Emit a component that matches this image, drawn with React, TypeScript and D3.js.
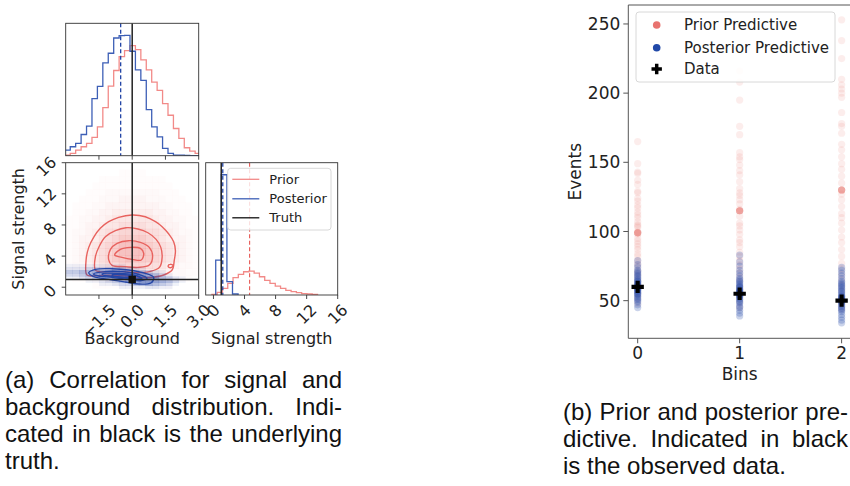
import React from 'react';
import * as d3 from 'd3';

const FONT = "'DejaVu Sans', sans-serif";
const CAP_FONT = "'Liberation Sans', Arial, sans-serif";

// ---------------- Data ----------------
// Corner plot, background marginal
const bkgEdges = [-3.04, -2.795, -2.55, -2.305, -2.06, -1.815, -1.57, -1.325, -1.08, -0.835, -0.59, -0.345, -0.1, 0.145, 0.39, 0.635, 0.88, 1.125, 1.37, 1.615, 1.86, 2.105, 2.35, 2.595, 2.84, 3.085];
const bkgPrior = [2, 7, 17, 27, 37, 55, 87, 145, 210, 257, 299, 317, 332, 320, 289, 259, 222, 197, 157, 122, 82, 52, 24, 14, 7];
const bkgPost = [17, 27, 37, 64, 89, 172, 209, 280, 309, 355, 362, 363, 315, 259, 227, 139, 87, 57, 22, 7, 2, 2, 1, 0, 0];

// signal marginal
const sigPriorEdges = [-0.2, 0.48, 1.16, 1.84, 2.52, 3.2, 3.88, 4.56, 5.24, 5.92, 6.6, 7.28, 7.96, 8.64, 9.32, 10.0, 10.68, 11.36, 12.04, 12.72, 13.4];
const sigPrior = [2, 8, 20, 35, 52, 62, 70, 72, 66, 55, 44, 35, 27, 20, 14, 10, 7, 4, 3, 2];
const sigPostEdges = [0.29, 1.01, 1.73, 2.45, 3.17];
const sigPost = [105, 362, 40, 3];

const truthBkg = 0;
const truthSig = 1;
const meanBkgPost = -0.52;
const meanSigPost = 1.2;
const meanSigPrior = 4.65;

const bkgTicks = [-1.5, 0, 1.5, 3.0];
const bkgTickLabels = ['\u22121.5', '0.0', '1.5', '3.0'];
const sigTicks = [0, 4, 8, 12, 16];
const sigTickLabels = ['0', '4', '8', '12', '16'];

// 2D density (prior): 20 cols over background [-3,3], 20 rows over signal [16,-1]
const priorDensity = [
  '00000000000000000000',
  '00000000111100000000',
  '00000111111111100000',
  '00001111111111110000',
  '00011122222222111000',
  '00111222333322211100',
  '01112233333333221110',
  '01122334444443322110',
  '11223345555554332211',
  '11233455666655433211',
  '12234566777766543221',
  '12334567888876543321',
  '12345678999987654321',
  '12345678999987654321',
  '12345678899887654321',
  '12234566777766543221',
  '11223445555554432211',
  '01112233333333221110',
  '00001111111111110000',
  '00000000000000000000',
];
// 2D density (posterior): 20 cols over [-3,3], 8 rows over signal [3.0,-0.2]
const postDensity = [
  '11111111100000000000',
  '22233344432100000000',
  '44556677765432100000',
  '33456789998765310000',
  '11234567899987542100',
  '00011234567887653100',
  '00000112334565431000',
  '00000000111122110000',
];

const priorC4 = [[-2.04, 1.57], [-2.08, 3.5], [-1.96, 5.12], [-1.74, 6.41], [-1.44, 7.57], [-1.06, 8.42], [-0.61, 8.98], [-0.01, 9.28], [0.59, 9.06], [1.05, 8.42], [1.35, 7.78], [1.65, 6.84], [1.87, 5.85], [1.95, 4.7], [1.9, 3.5], [1.8, 2.21], [1.42, 1.57], [0.89, 1.27], [0.29, 1.27], [-0.31, 1.44], [-1.06, 1.53], [-1.66, 1.48]];
const priorC3 = [[-1.66, 2.21], [-1.66, 3.93], [-1.48, 5.3], [-1.21, 6.49], [-0.76, 7.27], [-0.28, 7.65], [0.26, 7.48], [0.71, 7.0], [1.08, 6.15], [1.29, 5.12], [1.35, 3.84], [1.23, 2.55], [0.77, 2.0], [0.22, 1.87], [-0.38, 2.0], [-0.98, 2.0], [-1.48, 2.0]];
const priorC2 = [[-1.06, 3.5], [-0.98, 4.87], [-0.68, 5.64], [-0.16, 5.98], [0.37, 5.77], [0.77, 5.12], [0.92, 4.01], [0.77, 2.85], [0.26, 2.55], [-0.31, 2.64], [-0.91, 2.81]];
const priorC1 = [[-0.79, 4.14], [-0.53, 4.87], [-0.08, 5.12], [0.37, 5.0], [0.52, 4.35], [0.41, 3.5], [0.0, 3.58], [-0.46, 3.84]];
const priorBlob = [[1.62, 2.75], [1.72, 2.95], [1.84, 2.8], [1.78, 2.55], [1.66, 2.55]];

const postC4 = [[-1.96, 1.87], [-1.66, 2.3], [-0.91, 2.38], [-0.16, 2.21], [0.59, 1.78], [0.97, 1.27], [0.86, 0.58], [0.29, 0.41], [-0.31, 0.67], [-1.06, 1.01], [-1.74, 1.36]];
const postC3 = [[-1.74, 1.7], [-1.21, 2.0], [-0.46, 2.0], [0.22, 1.7], [0.67, 1.14], [0.37, 0.84], [-0.23, 1.01], [-0.91, 1.27], [-1.51, 1.44]];
const postC2 = [[-1.36, 1.7], [-0.61, 1.78], [0.07, 1.57], [0.44, 1.14], [0.0, 1.1], [-0.68, 1.36], [-1.21, 1.48]];
const postC1 = [[-0.91, 1.57], [-0.31, 1.61], [0.07, 1.36], [-0.38, 1.27], [-0.83, 1.36]];

// Predictive plot
const bins = [0, 1, 2];
const binTickLabels = ['0', '1', '2'];
const eventTicks = [50, 100, 150, 200, 250];
const observed = [60, 55, 50];
const priorPred0 = [165, 149, 143, 142, 137, 134, 129, 128, 124, 122, 119, 117, 114, 112, 110, 107, 105, 104, 103, 100, 99, 99, 99, 99, 99, 99, 99, 98, 95, 93, 91, 89, 87, 84, 82, 79, 77, 75, 72, 70, 68, 65, 62, 58, 55, 52, 48];
const priorPred1 = [216, 208, 195, 176, 170, 157, 154, 152, 148, 144, 141, 136, 131, 128, 126, 123, 120, 116, 115, 115, 115, 115, 115, 115, 115, 111, 106, 104, 101, 98, 94, 92, 89, 85, 82, 79, 76, 73, 70, 67, 64, 60, 57, 53, 49, 45];
const priorPred2 = [253, 238, 225, 210, 206, 203, 200, 197, 186, 178, 176, 171, 163, 159, 154, 149, 145, 140, 135, 130, 130, 130, 130, 130, 130, 130, 127, 123, 118, 113, 110, 106, 101, 96, 92, 87, 82, 77, 73, 69, 65, 61, 57, 53, 48, 44];
const postPred0 = [45, 47, 49, 50, 51, 52, 53, 54, 55, 55, 56, 57, 57, 58, 58, 59, 59, 60, 60, 61, 61, 62, 62, 63, 64, 64, 65, 66, 67, 68, 69, 70, 71, 72, 74, 76, 79];
const postPred1 = [39, 41, 43, 45, 46, 48, 49, 50, 51, 52, 53, 53, 54, 54, 55, 55, 56, 56, 57, 57, 58, 58, 59, 60, 60, 61, 62, 63, 64, 65, 66, 68, 70, 72, 75, 78, 83];
const postPred2 = [34, 36, 38, 40, 42, 43, 44, 45, 46, 47, 48, 49, 49, 50, 50, 51, 51, 52, 52, 53, 53, 54, 55, 56, 57, 58, 59, 60, 61, 62, 63, 64, 66, 68, 70, 72, 74];
const priorPred = [priorPred0, priorPred1, priorPred2];
const postPred = [postPred0, postPred1, postPred2];

const captionA = ['(a) Correlation for signal and', 'background distribution. Indi-', 'cated in black is the underlying', 'truth.'];
const captionB = ['(b) Prior and posterior pre-', 'dictive. Indicated in black', 'is the observed data.'];

// ---------------- Styles ----------------
const RED_LINE = '#f28a88';
const RED_CONT = '#e8625e';
const RED_FILL = '#e8625e';
const BLUE_LINE = '#3d5fb6';
const BLUE_CONT = '#2446a6';
const BLUE_FILL = '#2247a8';
const SPINE = '#333';
const redAlpha = [0, 0.018, 0.04, 0.07, 0.11, 0.16, 0.21, 0.26, 0.32, 0.38];
const blueAlpha = [0, 0.07, 0.13, 0.2, 0.27, 0.34, 0.41, 0.48, 0.55, 0.62];

let _ctx: CanvasRenderingContext2D | null = null;
function textWidth(t: string, font: string): number {
  if (!_ctx) {
    const c = document.createElement('canvas');
    _ctx = c.getContext('2d');
  }
  if (!_ctx) return t.length * 9;
  _ctx.font = font;
  return _ctx.measureText(t).width;
}

function stepPath(edges: number[], counts: number[], xs: any, ys: any) {
  const pts: [number, number][] = [[edges[0], 0]];
  counts.forEach((c, i) => {
    pts.push([edges[i], c]);
    pts.push([edges[i + 1], c]);
  });
  pts.push([edges[edges.length - 1], 0]);
  return d3.line<[number, number]>().x(d => xs(d[0])).y(d => ys(d[1]))(pts) || '';
}

function XRotLabels({ ticks, labels, scale, y0, size }: any) {
  const font = `${size}px 'DejaVu Sans'`;
  return (
    <g>
      {ticks.map((t: number, i: number) => {
        const w = textWidth(labels[i], font);
        const cy = y0 + 8 + (w + size * 0.72) * 0.3536;
        return (
          <text key={i} transform={`translate(${scale(t)},${cy}) rotate(-45)`} textAnchor="middle" dominantBaseline="central" fontSize={size} fontFamily={FONT} fill="#222">
            {labels[i]}
          </text>
        );
      })}
    </g>
  );
}

function YRotLabels({ ticks, labels, scale, x0, size }: any) {
  const font = `${size}px 'DejaVu Sans'`;
  return (
    <g>
      {ticks.map((t: number, i: number) => {
        const w = textWidth(labels[i], font);
        const cx = x0 - 8 - (w + size * 0.72) * 0.3536;
        return (
          <text key={i} transform={`translate(${cx},${scale(t) + 4}) rotate(-45)`} textAnchor="middle" dominantBaseline="central" fontSize={size} fontFamily={FONT} fill="#222">
            {labels[i]}
          </text>
        );
      })}
    </g>
  );
}

function Caption({ lines, x, width, y0, lh, justifyCount }: any) {
  const size = 24;
  const font = `${size}px 'Liberation Sans'`;
  return (
    <g>
      {lines.map((t: string, i: number) => {
        const w = textWidth(t, font);
        const spaces = (t.match(/ /g) || []).length;
        const ws = i < justifyCount && spaces ? (width - w) / spaces : 0;
        return (
          <text key={i} x={x} y={y0 + i * lh} fontSize={size} fontFamily={CAP_FONT} fill="#111" style={{ wordSpacing: `${ws}px` }}>
            {t}
          </text>
        );
      })}
    </g>
  );
}

export default function App() {
  // Panel geometry
  const L = 65.7, R = 198.7, TT = 23.3, TB = 155.7, MT = 162.7, MB = 295;
  const RL = 205.7, RR = 337.7;

  const xB = d3.scaleLinear().domain([-3, 3]).range([L, R]);
  const yS = d3.scaleLinear().domain([-1, 16]).range([MB, MT]);
  const xS = d3.scaleLinear().domain([-1, 16]).range([RL, RR]);
  const topMax = 1.1 * Math.max(d3.max(bkgPrior)!, d3.max(bkgPost)!);
  const yTop = d3.scaleLinear().domain([0, topMax]).range([TB, TT]);
  const sigMax = 1.1 * Math.max(d3.max(sigPrior)!, d3.max(sigPost)!);
  const ySig = d3.scaleLinear().domain([0, sigMax]).range([MB, MT]);

  // predictive plot
  const PL = 628.3, PR = 851, PT = 5, PB = 338.3;
  const xP = d3.scaleLinear().domain([-0.092, 2.092]).range([PL, PR]);
  const yP = d3.scaleLinear().domain([22.8, 263.7]).range([PB, PT]);

  const closed = d3.line<number[]>().x(d => xB(d[0])).y(d => yS(d[1])).curve(d3.curveCatmullRomClosed.alpha(0.5));
  const crossPath = d3.symbol().type(d3.symbolCross).size(85)() || '';

  const tickLen = 4;

  return (
    <svg width={850} height={486} style={{ position: 'absolute', left: 0, top: 0, background: '#fff' }} xmlns="http://www.w3.org/2000/svg">
      <defs>
        <clipPath id="cTop"><rect x={L} y={TT} width={R - L} height={TB - TT} /></clipPath>
        <clipPath id="cMid"><rect x={L} y={MT} width={R - L} height={MB - MT} /></clipPath>
        <clipPath id="cRight"><rect x={RL} y={MT} width={RR - RL} height={MB - MT} /></clipPath>
        <clipPath id="cPred"><rect x={PL} y={PT} width={PR - PL} height={PB - PT} /></clipPath>
      </defs>
      <rect x={0} y={0} width={850} height={486} fill="#fff" />

      {/* ---------- Top histogram: background ---------- */}
      <g clipPath="url(#cTop)">
        <path d={stepPath(bkgEdges, bkgPrior, xB, yTop)} fill="none" stroke={RED_LINE} strokeWidth={1.3} />
        <path d={stepPath(bkgEdges, bkgPost, xB, yTop)} fill="none" stroke={BLUE_LINE} strokeWidth={1.3} />
        <line x1={xB(meanBkgPost)} x2={xB(meanBkgPost)} y1={TT} y2={TB} stroke={BLUE_CONT} strokeWidth={1.3} strokeDasharray="4,2.5" />
        <line x1={xB(truthBkg)} x2={xB(truthBkg)} y1={TT} y2={TB} stroke="#222" strokeWidth={1.5} />
      </g>
      <rect x={L} y={TT} width={R - L} height={TB - TT} fill="none" stroke={SPINE} strokeWidth={0.9} />
      {bkgTicks.map((t, i) => (
        <line key={i} x1={xB(t)} x2={xB(t)} y1={TB} y2={TB + tickLen} stroke={SPINE} strokeWidth={0.9} />
      ))}

      {/* ---------- 2D panel ---------- */}
      <g clipPath="url(#cMid)">
        {priorDensity.map((row, r) =>
          row.split('').map((ch, c) => {
            const v = +ch;
            if (!v) return null;
            const x0 = xB(-3 + 0.3 * c), x1 = xB(-3 + 0.3 * (c + 1));
            const y0 = yS(16 - 0.85 * r), y1 = yS(16 - 0.85 * (r + 1));
            return <rect key={`p${r}-${c}`} x={x0} y={y0} width={x1 - x0 + 0.3} height={y1 - y0 + 0.3} fill={RED_FILL} fillOpacity={redAlpha[v]} />;
          })
        )}
        {[priorC4, priorC3, priorC2, priorC1, priorBlob].map((c, i) => (
          <path key={`pc${i}`} d={closed(c) || ''} fill="none" stroke={RED_CONT} strokeWidth={1.4} />
        ))}
        {postDensity.map((row, r) =>
          row.split('').map((ch, c) => {
            const v = +ch;
            if (!v) return null;
            const x0 = xB(-3 + 0.3 * c), x1 = xB(-3 + 0.3 * (c + 1));
            const y0 = yS(3.0 - 0.4 * r), y1 = yS(3.0 - 0.4 * (r + 1));
            return <rect key={`q${r}-${c}`} x={x0} y={y0} width={x1 - x0 + 0.3} height={y1 - y0 + 0.3} fill={BLUE_FILL} fillOpacity={blueAlpha[v]} />;
          })
        )}
        {[postC4, postC3, postC2, postC1].map((c, i) => (
          <path key={`qc${i}`} d={closed(c) || ''} fill="none" stroke={BLUE_CONT} strokeWidth={1.4} />
        ))}
        <line x1={xB(truthBkg)} x2={xB(truthBkg)} y1={MT} y2={MB} stroke="#222" strokeWidth={1.5} />
        <line x1={L} x2={R} y1={yS(truthSig)} y2={yS(truthSig)} stroke="#222" strokeWidth={1.5} />
        <rect x={xB(truthBkg) - 3.7} y={yS(truthSig) - 3.7} width={7.4} height={7.4} fill="#111" />
      </g>
      <rect x={L} y={MT} width={R - L} height={MB - MT} fill="none" stroke={SPINE} strokeWidth={0.9} />
      {bkgTicks.map((t, i) => (
        <line key={i} x1={xB(t)} x2={xB(t)} y1={MB} y2={MB + tickLen} stroke={SPINE} strokeWidth={0.9} />
      ))}
      {sigTicks.map((t, i) => (
        <line key={i} x1={L - tickLen} x2={L} y1={yS(t)} y2={yS(t)} stroke={SPINE} strokeWidth={0.9} />
      ))}
      <XRotLabels ticks={bkgTicks} labels={bkgTickLabels} scale={xB} y0={MB} size={16} />
      <YRotLabels ticks={sigTicks} labels={sigTickLabels} scale={yS} x0={L} size={16} />
      <text x={(L + R) / 2} y={344} textAnchor="middle" fontSize={16} fontFamily={FONT} fill="#222">Background</text>
      <text transform={`translate(24,${(MT + MB) / 2}) rotate(-90)`} textAnchor="middle" fontSize={16} fontFamily={FONT} fill="#222">Signal strength</text>

      {/* ---------- Right histogram: signal ---------- */}
      <g clipPath="url(#cRight)">
        <path d={stepPath(sigPriorEdges, sigPrior, xS, ySig)} fill="none" stroke={RED_LINE} strokeWidth={1.3} />
        <path d={stepPath(sigPostEdges, sigPost, xS, ySig)} fill="none" stroke={BLUE_LINE} strokeWidth={1.3} />
        <line x1={xS(meanSigPrior)} x2={xS(meanSigPrior)} y1={MT} y2={MB} stroke={RED_CONT} strokeWidth={1.2} strokeDasharray="4,2.5" />
        <line x1={xS(truthSig)} x2={xS(truthSig)} y1={MT} y2={MB} stroke="#222" strokeWidth={1.5} />
        <line x1={xS(meanSigPost)} x2={xS(meanSigPost)} y1={MT} y2={MB} stroke={BLUE_CONT} strokeWidth={1.3} strokeDasharray="4,2.5" />
      </g>
      <rect x={RL} y={MT} width={RR - RL} height={MB - MT} fill="none" stroke={SPINE} strokeWidth={0.9} />
      {sigTicks.map((t, i) => (
        <line key={i} x1={xS(t)} x2={xS(t)} y1={MB} y2={MB + tickLen} stroke={SPINE} strokeWidth={0.9} />
      ))}
      <XRotLabels ticks={sigTicks} labels={sigTickLabels} scale={xS} y0={MB} size={16} />
      <text x={(RL + RR) / 2} y={344} textAnchor="middle" fontSize={16} fontFamily={FONT} fill="#222">Signal strength</text>

      {/* legend of corner plot */}
      <g>
        <rect x={227.7} y={168.3} width={103.3} height={61.7} rx={3} fill="#fff" fillOpacity={0.8} stroke="#d4d4d4" strokeWidth={0.9} />
        {[
          { label: 'Prior', color: RED_LINE, y: 179.3 },
          { label: 'Posterior', color: BLUE_LINE, y: 198.8 },
          { label: 'Truth', color: '#111', y: 217.8 },
        ].map((e, i) => (
          <g key={i}>
            <line x1={232.3} x2={259.3} y1={e.y} y2={e.y} stroke={e.color} strokeWidth={1.3} />
            <text x={269.3} y={e.y} dy="0.36em" fontSize={13} fontFamily={FONT} fill="#222">{e.label}</text>
          </g>
        ))}
      </g>

      {/* ---------- Predictive plot ---------- */}
      <g clipPath="url(#cPred)">
        {priorPred.map((vals, b) =>
          vals.map((v, j) => <circle key={`r${b}-${j}`} cx={xP(bins[b])} cy={yP(v)} r={3.6} fill="#e8736f" fillOpacity={0.13} />)
        )}
        {postPred.map((vals, b) =>
          vals.map((v, j) => <circle key={`b${b}-${j}`} cx={xP(bins[b])} cy={yP(v)} r={3.6} fill="#2149a8" fillOpacity={0.24} />)
        )}
        {observed.map((v, b) => (
          <path key={`o${b}`} d={crossPath} transform={`translate(${xP(bins[b])},${yP(v)})`} fill="#000" />
        ))}
      </g>
      <line x1={PL} x2={PL} y1={PT} y2={PB} stroke="#555" strokeWidth={1} />
      <line x1={PL} x2={PR} y1={PB} y2={PB} stroke="#555" strokeWidth={1} />
      <line x1={PL} x2={PR} y1={PT} y2={PT} stroke="#555" strokeWidth={1} />
      {eventTicks.map((t, i) => (
        <g key={i}>
          <line x1={PL - 5} x2={PL} y1={yP(t)} y2={yP(t)} stroke="#555" strokeWidth={1} />
          <text x={PL - 8} y={yP(t)} dy="0.36em" textAnchor="end" fontSize={17} fontFamily={FONT} fill="#222">{t}</text>
        </g>
      ))}
      {bins.map((b, i) => (
        <g key={i}>
          <line x1={xP(b)} x2={xP(b)} y1={PB} y2={PB + 5} stroke="#555" strokeWidth={1} />
          <text x={xP(b)} y={358.5} textAnchor="middle" fontSize={17} fontFamily={FONT} fill="#222">{binTickLabels[i]}</text>
        </g>
      ))}
      <text x={(PL + PR) / 2} y={380} textAnchor="middle" fontSize={17} fontFamily={FONT} fill="#222">Bins</text>
      <text transform={`translate(580.5,${(PT + PB) / 2}) rotate(-90)`} textAnchor="middle" fontSize={17} fontFamily={FONT} fill="#222">Events</text>

      <g>
        <rect x={636} y={12} width={199} height={70} rx={3} fill="#fff" fillOpacity={0.85} stroke="#d4d4d4" strokeWidth={0.9} />
        <circle cx={656.7} cy={25} r={3.8} fill="#e8736f" />
        <text x={684} y={25} dy="0.36em" fontSize={15} fontFamily={FONT} fill="#222">Prior Predictive</text>
        <circle cx={656.7} cy={47.7} r={3.8} fill="#2149a8" />
        <text x={684} y={47.7} dy="0.36em" fontSize={15} fontFamily={FONT} fill="#222">Posterior Predictive</text>
        <path d={d3.symbol().type(d3.symbolCross).size(60)() || ''} transform="translate(656.7,69)" fill="#000" />
        <text x={684} y={69} dy="0.36em" fontSize={15} fontFamily={FONT} fill="#222">Data</text>
      </g>

      {/* ---------- Captions ---------- */}
      <Caption lines={captionA} x={5} width={337} y0={388} lh={27} justifyCount={3} />
      <Caption lines={captionB} x={563} width={285} y0={420} lh={27} justifyCount={2} />
    </svg>
  );
}
